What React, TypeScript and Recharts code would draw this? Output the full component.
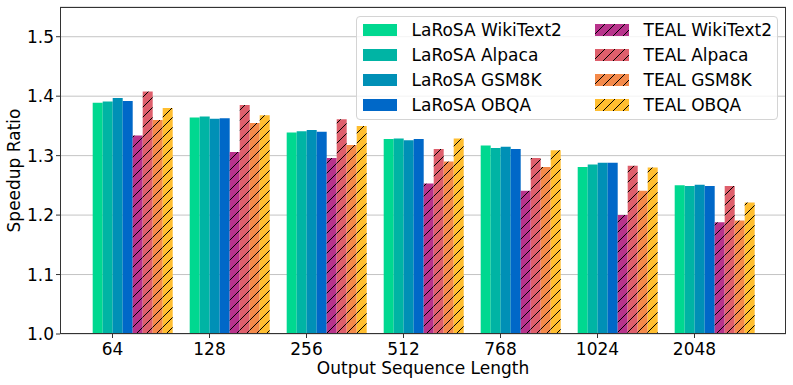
import React from 'react';
import { BarChart, Bar, XAxis, YAxis, CartesianGrid } from 'recharts';

const categories = ['64', '128', '256', '512', '768', '1024', '2048'];

const larosaWiki = [1.389, 1.364, 1.339, 1.328, 1.317, 1.281, 1.25];
const larosaAlpaca = [1.391, 1.366, 1.341, 1.329, 1.313, 1.285, 1.249];
const larosaGsm = [1.397, 1.362, 1.343, 1.326, 1.315, 1.288, 1.251];
const larosaObqa = [1.392, 1.363, 1.34, 1.328, 1.311, 1.288, 1.249];
const tealWiki = [1.334, 1.306, 1.296, 1.253, 1.241, 1.2, 1.188];
const tealAlpaca = [1.408, 1.385, 1.361, 1.311, 1.296, 1.283, 1.249];
const tealGsm = [1.36, 1.355, 1.318, 1.29, 1.281, 1.241, 1.191];
const tealObqa = [1.38, 1.368, 1.35, 1.329, 1.309, 1.28, 1.221];

const yTicks = [1.0, 1.1, 1.2, 1.3, 1.4, 1.5];

const series = [
  { key: 'lw', name: 'LaRoSA WikiText2', values: larosaWiki, color: '#00D890', hatch: false },
  { key: 'la', name: 'LaRoSA Alpaca', values: larosaAlpaca, color: '#00B4A4', hatch: false },
  { key: 'lg', name: 'LaRoSA GSM8K', values: larosaGsm, color: '#0090B6', hatch: false },
  { key: 'lo', name: 'LaRoSA OBQA', values: larosaObqa, color: '#0068C8', hatch: false },
  { key: 'tw', name: 'TEAL WikiText2', values: tealWiki, color: '#B8338C', hatch: true },
  { key: 'ta', name: 'TEAL Alpaca', values: tealAlpaca, color: '#DE5F6C', hatch: true },
  { key: 'tg', name: 'TEAL GSM8K', values: tealGsm, color: '#F48A4A', hatch: true },
  { key: 'to', name: 'TEAL OBQA', values: tealObqa, color: '#FFBE30', hatch: true },
];

const data = categories.map((len, i) => {
  const row: any = { len };
  series.forEach((s) => {
    row[s.key] = s.values[i];
  });
  return row;
});

const FONT = '"DejaVu Sans", sans-serif';
const FS = 17;
const W = 793;
const H = 385;
const M = { top: 7, right: 7, left: 0, bottom: 0 };
const Y_W = 60;
const X_H = 51;

const fillFor = (s: any) => (s.hatch ? `url(#hatch-${s.key})` : s.color);

const XTick = (props: any) => {
  const { x, y, payload } = props;
  const tx = x - 19.5;
  return (
    <g>
      <line x1={tx} x2={tx} y1={y} y2={y + 4} stroke="#333" />
      <text x={tx} y={y + 20.5} textAnchor="middle" fontSize={FS} fontFamily={FONT} fill="#000">
        {payload.value}
      </text>
    </g>
  );
};

const HatchDefs = () => (
  <defs>
    {series
      .filter((s) => s.hatch)
      .map((s) => (
        <pattern key={s.key} id={`hatch-${s.key}`} patternUnits="userSpaceOnUse" width={10} height={10}>
          <rect width={10} height={10} fill={s.color} />
          <path d="M-1,1 L1,-1 M0,10 L10,0 M9,11 L11,9" stroke="#000" strokeWidth={1} />
        </pattern>
      ))}
  </defs>
);

const Legend = () => (
  <div
    style={{
      position: 'absolute',
      left: 356,
      top: 16,
      width: 422,
      height: 104,
      boxSizing: 'border-box',
      border: '1px solid #d4d4d4',
      borderRadius: 4,
      background: 'rgba(255,255,255,0.8)',
      fontFamily: FONT,
      fontSize: FS,
    }}
  >
    {series.map((s, i) => {
      const col = i < 4 ? 0 : 1;
      const row = i % 4;
      return (
        <div
          key={s.key}
          style={{
            position: 'absolute',
            left: col === 0 ? 6 : 238,
            top: 6.5 + row * 25.2,
            height: 12,
            display: 'flex',
            alignItems: 'center',
            whiteSpace: 'nowrap',
          }}
        >
          <svg width={34} height={12} style={{ display: 'block' }}>
            <rect width={34} height={12} fill={fillFor(s)} />
          </svg>
          <span style={{ marginLeft: 14.5, lineHeight: '12px', color: '#000' }}>{s.name}</span>
        </div>
      );
    })}
  </div>
);

export default function App() {
  const plotLeft = M.left + Y_W;
  const plotTop = M.top;
  const plotW = W - plotLeft - M.right;
  const plotH = H - M.top - M.bottom - X_H;

  return (
    <div style={{ position: 'absolute', left: 0, top: 0, width: W, height: H, background: '#fff' }}>
      <BarChart width={W} height={H} data={data} margin={M} barCategoryGap={9.2} barGap={0}>
        <HatchDefs />
        <CartesianGrid vertical={false} stroke="#c4c4c4" strokeWidth={1} />
        <XAxis
          dataKey="len"
          height={X_H}
          padding={{ left: 23.5, right: 23.5 }}
          axisLine={false}
          tickLine={false}
          tickSize={0}
          tickMargin={0}
          interval={0}
          tick={<XTick />}
          label={{
            content: () => (
              <text x={plotLeft + plotW / 2} y={374} textAnchor="middle" fontSize={FS} fontFamily={FONT} fill="#000">
                Output Sequence Length
              </text>
            ),
          }}
        />
        <YAxis
          width={Y_W}
          domain={[1.0, 1.55]}
          ticks={yTicks}
          allowDataOverflow
          axisLine={false}
          tickLine={{ stroke: '#333' }}
          tickSize={4}
          tickMargin={2}
          tickFormatter={(v: number) => v.toFixed(1)}
          tick={{ fontSize: FS, fontFamily: FONT, fill: '#000' }}
          label={{
            content: () => (
              <text
                x={20}
                y={plotTop + plotH / 2}
                transform={`rotate(-90 20 ${plotTop + plotH / 2})`}
                textAnchor="middle"
                fontSize={FS}
                fontFamily={FONT}
                fill="#000"
              >
                Speedup Ratio
              </text>
            ),
          }}
        />
        {series.map((s) => (
          <Bar key={s.key} dataKey={s.key} name={s.name} fill={fillFor(s)} isAnimationActive={false} />
        ))}
      </BarChart>
      <div
        style={{
          position: 'absolute',
          left: plotLeft,
          top: plotTop,
          width: plotW,
          height: plotH,
          boxSizing: 'border-box',
          border: '1px solid #333',
          pointerEvents: 'none',
        }}
      />
      <Legend />
    </div>
  );
}
